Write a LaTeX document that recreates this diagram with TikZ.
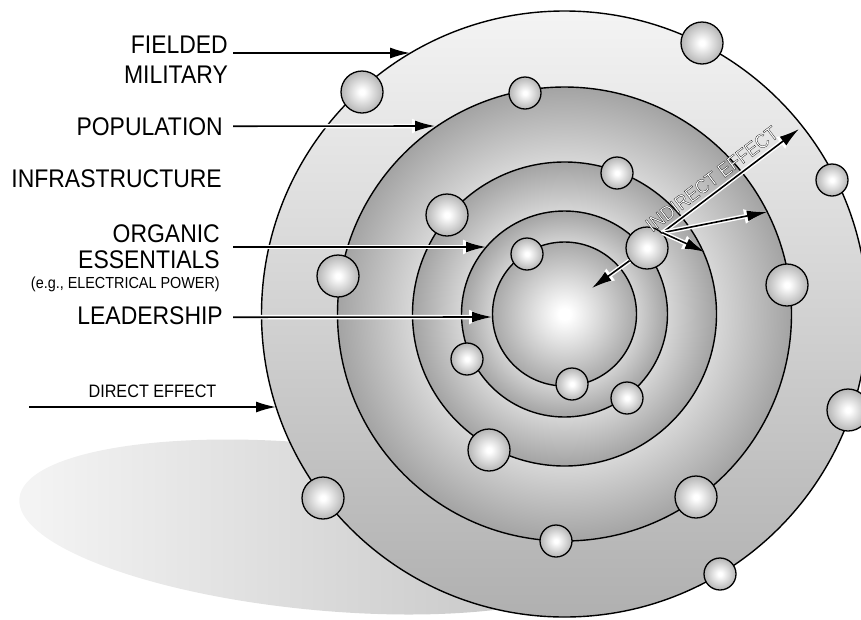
\documentclass[tikz,border=0pt]{standalone}
\usepackage{fontspec}
\setmainfont{Liberation Sans}[FakeStretch=0.9]
\newfontfamily\outlinefont{Liberation Sans}[FakeStretch=0.9, FakeBold=1.15]
\usetikzlibrary{arrows.meta}
\pgfdeclareradialshading{bandshade}{\pgfpointorigin}{color(0bp)=(gray!12); color(16.5bp)=(gray!30); color(25bp)=(gray!72); color(50bp)=(gray!72)}
\pgfdeclareradialshading{coreshade}{\pgfpointorigin}{color(0bp)=(white); color(2bp)=(white); color(25bp)=(gray!68); color(50bp)=(gray!68)}
\pgfdeclareradialshading{ballshade}{\pgfpointorigin}{color(0bp)=(white); color(3bp)=(white); color(25bp)=(gray!58); color(50bp)=(gray!58)}

\begin{document}
\begin{tikzpicture}[x=1pt,y=-1pt]
			\tikzset{ring/.style={draw=black, line width=1.4pt}}
			\tikzset{ball/.style={shape=circle, draw=black, line width=1.3pt, shade, shading=ballshade, inner sep=0pt}}
			\tikzset{bigball/.style={ball, minimum size=42pt}}
			\tikzset{smallball/.style={ball, minimum size=32pt}}
			\tikzset{ringname/.style={inner sep=0pt, anchor=base east, font=\fontsize{25.5}{30}\selectfont}}
			\tikzset{pointer/.style={-{Latex[length=20pt,width=11pt]}, line width=1.6pt,
					preaction={draw=white, line width=4.5pt, -{Latex[length=23pt,width=15pt]}}}}
			\useasboundingbox (0,0) rectangle (861,619);
			\clip (0,0) rectangle (861,619);
			%shadow
			\shade[left color=gray!8, right color=gray!50, rotate around={-5.5:(318,527)}] (318,527) ellipse [x radius=300, y radius=83];
			%rings
			\coordinate (c) at (564.5,314);
			\shadedraw[ring, top color=gray!9, bottom color=gray!62] (c) circle [radius=303];
			\shadedraw[ring, shading=bandshade] (c) circle [radius=227];
			\shadedraw[ring, shading=bandshade] (c) circle [radius=152];
			\shadedraw[ring, shading=bandshade] (c) circle [radius=103];
			\shadedraw[ring, shading=coreshade] (c) circle [radius=72];
			%balls
			\node[bigball] (b1) at (362,92) {};
			\node[bigball] (b2) at (702,43) {};
			\node[smallball] (b3) at (832,180) {};
			\node[bigball] (b4) at (848,410) {};
			\node[smallball] (b5) at (720,574) {};
			\node[bigball] (b6) at (323,498) {};
			\node[bigball] (b7) at (338,276) {};
			\node[smallball] (b8) at (525,93) {};
			\node[bigball] (b9) at (447,215) {};
			\node[smallball] (b10) at (617,173) {};
			\node[bigball] (keyball) at (647,248) {};
			\node[smallball] (b12) at (527,254) {};
			\node[bigball] (b13) at (787,285) {};
			\node[smallball] (b14) at (467,359) {};
			\node[smallball] (b15) at (572,384) {};
			\node[smallball] (b16) at (627,398) {};
			\node[bigball] (b17) at (489,450) {};
			\node[bigball] (b18) at (696,497) {};
			\node[smallball] (b19) at (556,541) {};
			%labels
			\node[ringname] (fielded) at (228,53) {FIELDED};
			\node[ringname] (military) at (228,83) {MILITARY};
			\node[ringname] (population) at (223,135) {POPULATION};
			\node[ringname] (infra) at (222,187) {INFRASTRUCTURE};
			\node[ringname] (organic) at (220,242) {ORGANIC};
			\node[ringname] (essentials) at (220,268) {ESSENTIALS};
			\node[ringname, font=\fontsize{16}{20}\selectfont] (power) at (220,288) {(e.g., ELECTRICAL POWER)};
			\node[ringname] (leadership) at (223,324) {LEADERSHIP};
			%arrow ends
			\coordinate (tipFielded) at (410,53);
			\coordinate (tipPopulation) at (435,126);
			\coordinate (tipOrganic) at (486,247);
			\coordinate (tipLeadership) at (492,317);
			\coordinate (directFrom) at (29,407);
			\coordinate (tipDirect) at (276,407);
			\coordinate (fan) at (keyball.45);
			\coordinate (tipWide) at (799,129);
			\coordinate (tipMid) at (767,212);
			\coordinate (tipShort) at (705,252);
			\coordinate (tipCore) at (592,288);
			%arrows
			\draw[pointer] ([xshift=5pt]fielded.base east) -- (tipFielded);
			\draw[pointer] ([xshift=10pt]population.east) -- (tipPopulation);
			\draw[pointer] ([shift={(13pt,-5pt)}]organic.base east) -- (tipOrganic);
			\draw[pointer] ([shift={(10pt,-2pt)}]leadership.east) -- (tipLeadership);
			\draw[pointer] (directFrom) -- node[midway, anchor=base, yshift=10pt, inner sep=0pt, font=\fontsize{18}{20}\selectfont] (direct) {DIRECT EFFECT} (tipDirect);
			\draw[pointer] (fan) -- node[sloped, pos=0.42, above=5pt, inner sep=0pt, font=\outlinefont\fontsize{20}{20}\selectfont] (indirect) {\special{pdf:bcolor [1] [0]}INDIRECT EFFECT\special{pdf:ecolor}} (tipWide);
			\draw[pointer] (fan) -- (tipMid);
			\draw[pointer] (fan) -- (tipShort);
			\draw[pointer] (keyball) -- (tipCore);
		\end{tikzpicture}
\end{document}
